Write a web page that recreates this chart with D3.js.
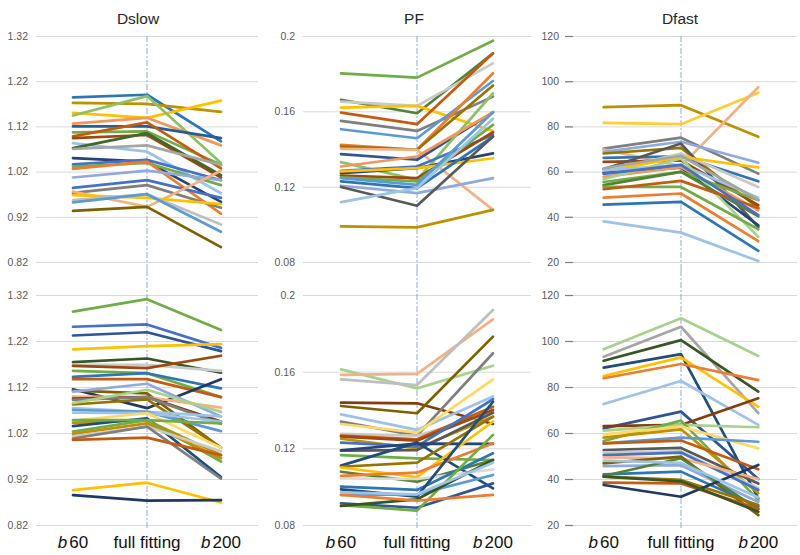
<!DOCTYPE html>
<html>
<head>
<meta charset="utf-8">
<script src="https://cdn.jsdelivr.net/npm/d3@7"></script>
<style>
  html, body { margin: 0; padding: 0; background: #fff; }
  svg { display: block; font-family: "Liberation Sans", Arial, sans-serif; }
</style>
</head>
<body>
<svg id="chart" width="800" height="555"></svg>
<script>
// ---------------- DATA ----------------
const categories = ["b 60", "full fitting", "b 200"];
const panelTitles = ["Dslow", "PF", "Dfast"];

const dslowTicks = [0.82, 0.92, 1.02, 1.12, 1.22, 1.32];
const dslowTickLabels = ["0.82", "0.92", "1.02", "1.12", "1.22", "1.32"];
const pfTicks = [0.08, 0.12, 0.16, 0.2];
const pfTickLabels = ["0.08", "0.12", "0.16", "0.2"];
const dfastTicks = [20, 40, 60, 80, 100, 120];
const dfastTickLabels = ["20", "40", "60", "80", "100", "120"];

// Dslow, top row
const dslowTop = [
  [1.184, 1.190, 1.087], [1.172, 1.170, 1.152], [1.150, 1.139, 1.177], [1.144, 1.187, 1.039],
  [1.126, 1.139, 1.078], [1.120, 1.120, 1.094], [1.107, 1.109, 1.035], [1.098, 1.129, 1.027],
  [1.094, 1.101, 1.007], [1.083, 1.064, 0.972], [1.072, 1.105, 1.012], [1.070, 1.078, 1.035],
  [1.050, 1.042, 0.953], [1.036, 1.046, 1.001], [1.031, 1.039, 0.990], [1.026, 1.042, 0.927],
  [1.007, 1.022, 1.001], [0.984, 1.001, 0.962], [0.973, 0.990, 0.940], [0.976, 0.942, 1.022],
  [0.968, 0.962, 0.948], [0.957, 0.970, 0.903], [0.952, 0.970, 0.887], [0.933, 0.942, 0.853]
];
const dslowTopColors = [
  "#2E75B6", "#BF9000", "#FFC000", "#8CC168", "#F1975A", "#255E91", "#70AD47", "#C55A11",
  "#9E480E", "#9DC3E6", "#43682B", "#A5A5A5", "#264478", "#4472C4", "#70AD47", "#ED7D31",
  "#8FAADC", "#4472C4", "#7F7F7F", "#F4B183", "#FFC000", "#BFBFBF", "#5B9BD5", "#7F6000"
];

// PF, top row
const pfTop = [
  [0.1802, 0.1779, 0.1975], [0.1661, 0.1590, 0.1908], [0.1652, 0.1629, 0.1855], [0.1620, 0.1629, 0.1496],
  [0.1593, 0.1532, 0.1908], [0.1549, 0.1496, 0.1678], [0.1505, 0.1457, 0.1761], [0.1422, 0.1396, 0.1802],
  [0.1413, 0.1396, 0.1737], [0.1401, 0.1396, 0.1077], [0.1373, 0.1343, 0.1595], [0.1330, 0.1236, 0.1696],
  [0.1307, 0.1360, 0.1595], [0.1284, 0.1307, 0.1475], [0.1272, 0.1298, 0.1377], [0.1259, 0.1245, 0.1489],
  [0.1281, 0.1298, 0.1351], [0.1249, 0.1228, 0.1528], [0.1245, 0.1210, 0.1595], [0.1228, 0.1192, 0.1466],
  [0.1205, 0.1166, 0.1245], [0.1198, 0.1099, 0.1466], [0.1118, 0.1192, 0.1560], [0.0989, 0.0984, 0.1077]
];
const pfTopColors = [
  "#70AD47", "#548235", "#C9C9C9", "#FFC000", "#C55A11", "#7F7F7F", "#5B9BD5", "#ED7D31",
  "#997300", "#F4B183", "#2F5597", "#8CC168", "#F1975A", "#4472C4", "#264478", "#9E480E",
  "#FFC000", "#70AD47", "#5B9BD5", "#2E75B6", "#8FAADC", "#595959", "#9DC3E6", "#BF9000"
];

// Dfast, top row
const dfastTop = [
  [88.5, 89.4, 75.4], [81.6, 81.0, 94.9], [70.2, 75.0, 59.1], [69.8, 62.4, 97.3],
  [68.7, 73.2, 63.9], [68.0, 70.5, 43.9], [66.1, 66.8, 55.7], [64.3, 65.0, 45.1],
  [61.0, 72.4, 35.5], [60.0, 68.0, 53.2], [59.9, 66.5, 61.8], [59.4, 61.7, 36.2],
  [60.5, 63.0, 48.4], [57.7, 62.0, 42.9], [56.6, 65.8, 31.1], [55.4, 59.9, 47.3],
  [54.0, 59.9, 40.2], [53.2, 53.2, 34.5], [52.2, 55.9, 43.9], [48.5, 50.3, 29.2],
  [45.4, 46.6, 24.9], [38.0, 33.0, 20.4], [59.0, 63.0, 40.7], [61.5, 67.0, 47.5]
];
const dfastTopColors = [
  "#BF9000", "#FFCD33", "#7F7F7F", "#F4B183", "#8FAADC", "#997300", "#2E75B6", "#9E480E",
  "#595959", "#C9C9C9", "#FFC000", "#264478", "#9DC3E6", "#F1975A", "#A9D18E", "#70AD47",
  "#548235", "#70AD47", "#C55A11", "#ED7D31", "#2E75B6", "#9DC3E6", "#4472C4", "#A5A5A5"
];

// Dslow, bottom row
const dslowBottom = [
  [1.284, 1.311, 1.244], [1.251, 1.256, 1.205], [1.232, 1.239, 1.198], [1.202, 1.209, 1.213],
  [1.174, 1.182, 1.151], [1.168, 1.168, 1.155], [1.166, 1.161, 1.188], [1.155, 1.150, 1.098],
  [1.142, 1.150, 1.117], [1.137, 1.137, 1.098], [1.115, 1.074, 1.137], [1.112, 1.106, 0.988],
  [1.110, 1.127, 1.056], [1.099, 1.098, 1.075], [1.095, 1.098, 1.045], [1.092, 1.098, 1.040],
  [1.082, 1.093, 0.988], [1.085, 1.114, 1.066], [1.074, 1.066, 1.056], [1.070, 1.066, 1.024],
  [1.064, 1.063, 1.045], [1.047, 1.063, 0.988], [1.042, 1.048, 0.972], [1.035, 1.052, 0.924],
  [1.023, 1.048, 0.958], [1.018, 1.041, 0.965], [1.013, 1.034, 0.980], [1.008, 1.034, 0.921],
  [1.005, 1.010, 0.972], [0.896, 0.912, 0.869], [0.885, 0.873, 0.874], [1.048, 1.048, 1.041]
];
const dslowBottomColors = [
  "#70AD47", "#4472C4", "#2F5597", "#FFC000", "#375623", "#C9C9C9", "#9E480E", "#70AD47",
  "#2E75B6", "#C55A11", "#1F3864", "#7F6000", "#8FAADC", "#F4B183", "#843C0C", "#7F7F7F",
  "#997300", "#A9D18E", "#9DC3E6", "#5B9BD5", "#9DC3E6", "#FFD966", "#BF9000", "#1F4E79",
  "#70AD47", "#BF9000", "#C9C9C9", "#7F7F7F", "#C55A11", "#FFC000", "#1F3864", "#70AD47"
];

// PF, bottom row
const pfBottom = [
  [0.1612, 0.1513, 0.1631], [0.1583, 0.1588, 0.1873], [0.1560, 0.1530, 0.1922], [0.1438, 0.1435, 0.1327],
  [0.1421, 0.1383, 0.1783], [0.1377, 0.1296, 0.1470], [0.1339, 0.1266, 0.1696], [0.1327, 0.1282, 0.1560],
  [0.1275, 0.1266, 0.1386], [0.1266, 0.1247, 0.1417], [0.1261, 0.1240, 0.1400], [0.1250, 0.1200, 0.1365],
  [0.1230, 0.1210, 0.1456], [0.1188, 0.1191, 0.1386], [0.1165, 0.1148, 0.1139], [0.1110, 0.1230, 0.0991],
  [0.1190, 0.1225, 0.1223], [0.1104, 0.1125, 0.1365], [0.1100, 0.1050, 0.1340], [0.1078, 0.1026, 0.1139],
  [0.1056, 0.1073, 0.1226], [0.1043, 0.1040, 0.1090], [0.1000, 0.0983, 0.1174], [0.0986, 0.0948, 0.1443],
  [0.0957, 0.0960, 0.1061], [0.0913, 0.0890, 0.1017], [0.0904, 0.0875, 0.1270], [0.0900, 0.0934, 0.1139],
  [0.0957, 0.0927, 0.0957], [0.0970, 0.0960, 0.1125]
];
const pfBottomColors = [
  "#A9D18E", "#F4B183", "#BFBFBF", "#843C0C", "#7F6000", "#9DC3E6", "#7F7F7F", "#FFD966",
  "#C9C9C9", "#C55A11", "#9E480E", "#BF9000", "#4472C4", "#595959", "#70AD47", "#1F4E79",
  "#264478", "#997300", "#FFC000", "#548235", "#ED7D31", "#D9D9D9", "#2E75B6", "#1F4E79",
  "#5B9BD5", "#2F5597", "#70AD47", "#375623", "#ED7D31", "#9DC3E6"
];

// Dfast, bottom row
const dfastBottom = [
  [96.4, 109.9, 93.5], [93.2, 106.2, 68.6], [91.4, 100.4, 78.0], [88.4, 94.3, 31.6],
  [84.8, 92.9, 71.4], [83.8, 90.0, 83.0], [72.6, 82.6, 63.5], [62.0, 69.3, 40.0],
  [63.0, 63.5, 75.1], [61.0, 63.5, 62.5], [56.5, 65.4, 30.9], [59.4, 62.8, 53.3],
  [58.0, 61.6, 33.8], [55.5, 58.0, 56.2], [55.5, 56.7, 44.2], [52.6, 53.5, 38.0],
  [51.5, 52.0, 36.0], [50.4, 51.5, 35.2], [49.4, 49.0, 40.0], [46.8, 49.7, 24.3],
  [45.6, 46.0, 30.0], [42.0, 43.2, 28.0], [41.3, 49.0, 26.8], [41.0, 39.6, 28.7],
  [38.4, 38.1, 27.0], [37.4, 32.3, 46.1], [41.0, 39.0, 25.8], [48.0, 47.0, 32.0]
];
const dfastBottomColors = [
  "#A9D18E", "#A5A5A5", "#375623", "#1F4E79", "#FFC000", "#ED7D31", "#9DC3E6", "#2F5597",
  "#843C0C", "#A9D18E", "#70AD47", "#FFD966", "#BF9000", "#5B9BD5", "#C55A11", "#595959",
  "#C9C9C9", "#4472C4", "#F4B183", "#7F6000", "#8FAADC", "#2E75B6", "#548235", "#997300",
  "#C55A11", "#1F3864", "#375623", "#9DC3E6"
];

// ---------------- LAYOUT ----------------
const svg = d3.select("#chart");
const columns = [
  { xr: [36, 258], domain: [0.82, 1.32], ticks: dslowTicks, labels: dslowTickLabels, pad: 8, tickMark: false, titleX: 138 },
  { xr: [303, 531], domain: [0.08, 0.2], ticks: pfTicks, labels: pfTickLabels, pad: 8, tickMark: false, titleX: 414 },
  { xr: [565, 797], domain: [20, 120], ticks: dfastTicks, labels: dfastTickLabels, pad: 6, tickMark: true, titleX: 680 }
];
const rows = [
  { yr: [262, 36], vTop: 36, vBottom: 270 },
  { yr: [525, 295], vTop: 270, vBottom: 528 }
];
const panelData = [
  [dslowTop, pfTop, dfastTop],
  [dslowBottom, pfBottom, dfastBottom]
];
const panelColors = [
  [dslowTopColors, pfTopColors, dfastTopColors],
  [dslowBottomColors, pfBottomColors, dfastBottomColors]
];

// Titles
columns.forEach((c, ci) => {
  svg.append("text")
    .attr("x", c.titleX).attr("y", 24)
    .attr("text-anchor", "middle")
    .attr("font-size", 15.5)
    .attr("fill", "#262626")
    .text(panelTitles[ci]);
});

rows.forEach((r, ri) => {
  columns.forEach((c, ci) => {
    const x = d3.scalePoint().domain(categories).range(c.xr).padding(0.5);
    const y = d3.scaleLinear().domain(c.domain).range(r.yr);
    const g = svg.append("g");

    const axis = d3.axisLeft(y)
      .tickValues(c.ticks)
      .tickFormat((d, i) => c.labels[i])
      .tickSize(-(c.xr[1] - c.xr[0]))
      .tickPadding(c.pad);
    const ag = g.append("g").attr("transform", `translate(${c.xr[0]},0)`).call(axis);
    ag.select(".domain").remove();
    ag.selectAll(".tick line").attr("stroke", "#D9D9D9").attr("stroke-width", 1);
    ag.selectAll(".tick text").attr("fill", "#595959").attr("font-size", 10.5)
      .attr("font-family", "'Liberation Sans Narrow', 'Liberation Sans', Arial, sans-serif");
    if (c.tickMark) {
      ag.selectAll(".tick").append("line")
        .attr("x1", 0).attr("x2", 8)
        .attr("stroke", "#7F7F7F").attr("stroke-width", 1.2);
    }

    g.append("line")
      .attr("x1", x(categories[1])).attr("x2", x(categories[1]))
      .attr("y1", r.vTop).attr("y2", r.vBottom)
      .attr("stroke", "#8FAADC").attr("stroke-width", 1)
      .attr("stroke-dasharray", "6,2,2,2");

    const line = d3.line()
      .x((d, i) => x(categories[i]))
      .y(d => y(d));
    g.append("g").selectAll("path")
      .data(panelData[ri][ci])
      .join("path")
      .attr("d", line)
      .attr("fill", "none")
      .attr("stroke", (d, i) => panelColors[ri][ci][i])
      .attr("stroke-width", 2.7)
      .attr("stroke-linejoin", "round")
      .attr("stroke-linecap", "round");

    if (ri === rows.length - 1) {
      const lab = g.append("g");
      categories.forEach(cat => {
        const t = lab.append("text")
          .attr("x", x(cat)).attr("y", 548)
          .attr("text-anchor", "middle")
          .attr("font-size", 17)
          .attr("fill", "#111");
        if (cat.startsWith("b ")) {
          t.append("tspan").attr("font-style", "italic").text("b");
          t.append("tspan").attr("dx", 2).text(cat.slice(2));
        } else {
          t.text(cat);
        }
      });
    }
  });
});
</script>
</body>
</html>
